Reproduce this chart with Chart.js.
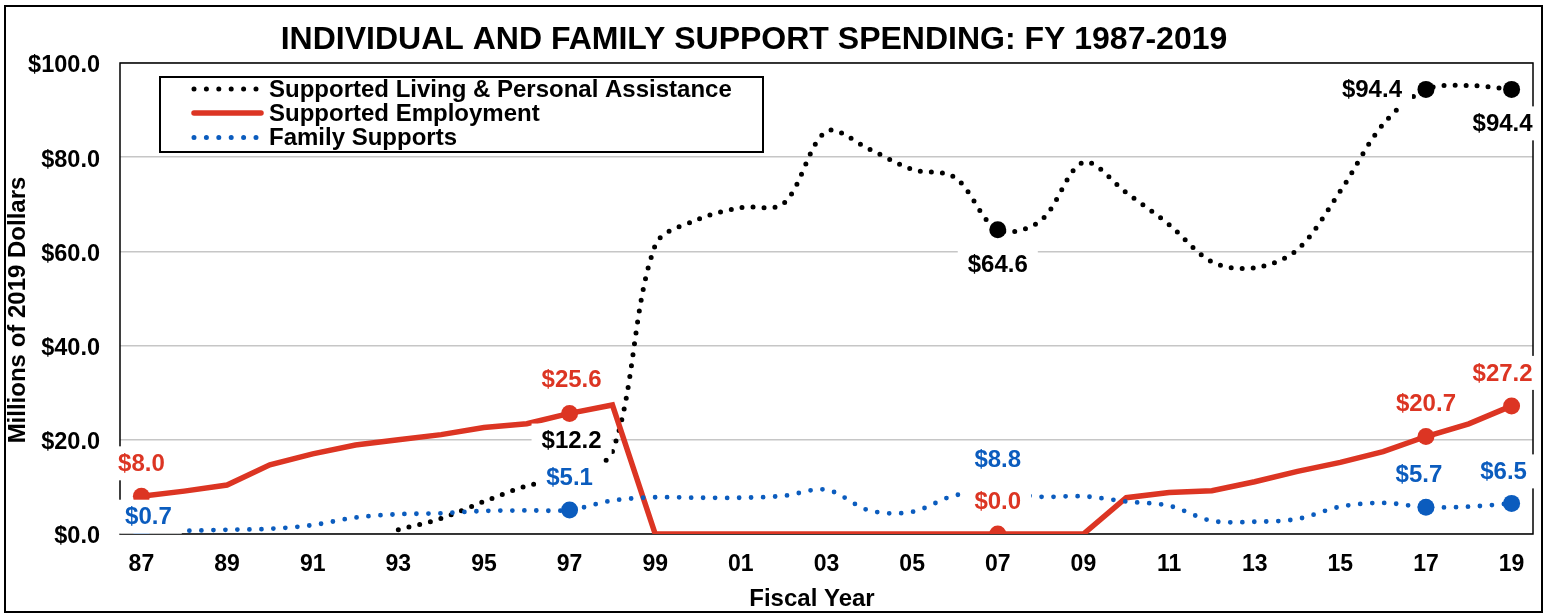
<!DOCTYPE html>
<html>
<head>
<meta charset="utf-8">
<title>Individual and Family Support Spending</title>
<script src="https://cdn.jsdelivr.net/npm/chart.js@4.4.0/dist/chart.umd.min.js"></script>
<style>
  html, body { margin: 0; padding: 0; background: #fff; }
  #chart_container { width: 1551px; height: 615px; }
</style>
</head>
<body>
<div id="chart_container"><canvas id="spending" width="1551" height="615"></canvas></div>
<script>
// fiscal years 1987 - 2019
var years = ['87','88','89','90','91','92','93','94','95','96','97','98','99','00','01','02','03',
             '04','05','06','07','08','09','10','11','12','13','14','15','16','17','18','19'];

// millions of 2019 dollars
var living = [null, null, null, null, null, null, 0.9, 3.3, 6.9, 10.2, 12.2, 17.5, 61.3, 66.8, 69.3, 70.2, 85.5,
              81.7, 77.4, 75.7, 64.6, 66.5, 78.9, 72.5, 65.7, 57.8, 56.5, 60.4, 72.8, 87.0, 94.4, 95.2, 94.4];
var employment = [8.0, 9.1, 10.4, 14.7, 17.0, 18.9, 20.0, 21.1, 22.6, 23.4, 25.6, 27.4, 0.0, 0.0, 0.0, 0.0, 0.0,
                  0.0, 0.0, 0.0, 0.0, 0.0, 0.0, 7.7, 8.8, 9.2, 11.1, 13.3, 15.2, 17.5, 20.7, 23.4, 27.2];
var family = [0.7, 0.7, 0.9, 1.1, 1.9, 3.5, 4.2, 4.4, 4.9, 5.0, 5.1, 7.1, 7.8, 7.7, 7.7, 8.1, 9.4,
              5.0, 4.7, 8.2, 8.8, 7.9, 8.0, 6.9, 6.0, 2.8, 2.6, 3.2, 5.8, 6.6, 5.7, 5.8, 6.5];

var seriesNames = ['Supported Living & Personal Assistance', 'Supported Employment', 'Family Supports'];
var chartTitle = 'INDIVIDUAL AND FAMILY SUPPORT SPENDING: FY 1987-2019';
var yTitle = 'Millions of 2019 Dollars';
var xTitle = 'Fiscal Year';

// which years get a marker + value label
var markedLiving = [20, 30, 32];
var labelledLiving = [10, 20, 30, 32];
var markedOther = [0, 10, 20, 30, 32];

var BLACK = '#000000', RED = '#dc3523', BLUE = '#0b5cbe';
var FONT = '"Liberation Sans", Arial, sans-serif';

// label placement relative to its point: [dx, dy]
var labelOffsets = [
  { 10: [2, -36], 20: [0, 35], 30: [-54, 0], 32: [-9, 34] },
  { 0: [0, -33], 10: [2, -34], 20: [0, -33], 30: [0, -33], 32: [-9, -33] },
  { 0: [7, -14], 10: [0, -33], 20: [0, -33], 30: [-7, -33], 32: [-8, -32] }
];

function markerRadius(list) {
  return function (ctx) { return list.indexOf(ctx.dataIndex) >= 0 ? 8.5 : 0; };
}

var decorations = {
  id: 'decorations',
  beforeDraw: function (chart) {
    var ctx = chart.ctx;
    ctx.save();
    ctx.fillStyle = '#fff';
    ctx.fillRect(0, 0, chart.width, chart.height);
    ctx.restore();
  },
  beforeDatasetsDraw: function (chart) {
    var ctx = chart.ctx, a = chart.chartArea;
    ctx.save();
    ctx.strokeStyle = '#000';
    ctx.lineWidth = 1.5;
    ctx.strokeRect(a.left, a.top, a.right - a.left, a.bottom - a.top);
    ctx.restore();
  },
  afterDatasetsDraw: function (chart) {
    var ctx = chart.ctx;
    var xs = chart.scales.x, ys = chart.scales.y;
    var all = [living, employment, family];
    var colors = [BLACK, RED, BLUE];
    var lists = [labelledLiving, markedOther, markedOther];

    // value labels with white boxes
    ctx.save();
    ctx.font = 'bold 24px ' + FONT;
    ctx.textAlign = 'center';
    ctx.textBaseline = 'middle';
    for (var s = 0; s < 3; s++) {
      for (var k = 0; k < lists[s].length; k++) {
        var i = lists[s][k];
        var v = all[s][i];
        var txt = '$' + v.toFixed(1);
        var off = labelOffsets[s][i];
        var x = xs.getPixelForValue(i) + off[0];
        var y = ys.getPixelForValue(v) + off[1];
        var w = ctx.measureText(txt).width;
        ctx.fillStyle = '#fff';
        ctx.fillRect(x - w / 2 - 10, y - 17, w + 20, 34);
        ctx.fillStyle = colors[s];
        ctx.fillText(txt, x, y + 1);
      }
    }
    ctx.restore();

    // legend box inside the plot
    ctx.save();
    ctx.fillStyle = '#fff';
    ctx.fillRect(160, 77, 603, 75);
    ctx.strokeStyle = '#000';
    ctx.lineWidth = 2;
    ctx.strokeRect(160, 77, 603, 75);
    var rows = [89, 113, 137.5];
    ctx.lineCap = 'round';
    for (var r = 0; r < 3; r++) {
      ctx.beginPath();
      ctx.strokeStyle = colors[r];
      if (r == 1) {
        ctx.setLineDash([]);
        ctx.lineWidth = 5.5;
        ctx.moveTo(194, rows[r]);
        ctx.lineTo(261, rows[r]);
      } else {
        ctx.setLineDash([0, 12.4]);
        ctx.lineWidth = 5;
        ctx.moveTo(194, rows[r]);
        ctx.lineTo(258, rows[r]);
      }
      ctx.stroke();
    }
    ctx.setLineDash([]);
    ctx.fillStyle = '#000';
    ctx.font = 'bold 24px ' + FONT;
    ctx.textAlign = 'left';
    ctx.textBaseline = 'middle';
    for (var r2 = 0; r2 < 3; r2++) {
      ctx.fillText(seriesNames[r2], 269, rows[r2] + 1);
    }
    ctx.restore();
  },
  afterDraw: function (chart) {
    var ctx = chart.ctx;
    ctx.save();
    ctx.fillStyle = '#000';
    ctx.textAlign = 'center';
    ctx.textBaseline = 'middle';
    ctx.font = 'bold 32px ' + FONT;
    ctx.fillText(chartTitle, 754, 40);
    ctx.font = 'bold 24px ' + FONT;
    ctx.fillText(xTitle, 812, 599);
    ctx.translate(17, 310);
    ctx.rotate(-Math.PI / 2);
    ctx.fillText(yTitle, 0, 1);
    ctx.restore();

    // outer frame
    ctx.save();
    ctx.strokeStyle = '#000';
    ctx.lineWidth = 2;
    ctx.strokeRect(5, 6, 1537, 606);
    ctx.restore();
  }
};

Chart.defaults.font.family = FONT;

var chart = new Chart(document.getElementById('spending'), {
  type: 'line',
  data: {
    labels: years,
    datasets: [
      {
        label: seriesNames[0],
        data: living,
        borderColor: BLACK,
        backgroundColor: BLACK,
        borderWidth: 5,
        borderDash: [0, 11],
        borderCapStyle: 'round',
        tension: 0.33,
        pointRadius: markerRadius(markedLiving),
        pointBorderWidth: 0,
        pointBackgroundColor: BLACK,
        order: 2
      },
      {
        label: seriesNames[1],
        data: employment,
        borderColor: RED,
        backgroundColor: RED,
        borderWidth: 5.5,
        tension: 0,
        pointRadius: markerRadius(markedOther),
        pointBorderWidth: 0,
        pointBackgroundColor: RED,
        order: 1
      },
      {
        label: seriesNames[2],
        data: family,
        borderColor: BLUE,
        backgroundColor: BLUE,
        borderWidth: 4.8,
        borderDash: [0, 12],
        borderCapStyle: 'round',
        tension: 0.33,
        pointRadius: markerRadius(markedOther),
        pointBorderWidth: 0,
        pointBackgroundColor: BLUE,
        order: 0
      }
    ]
  },
  options: {
    responsive: false,
    animation: false,
    devicePixelRatio: 1,
    layout: { padding: { left: 0, top: 63, right: 18, bottom: 0 } },
    plugins: {
      legend: { display: false },
      tooltip: { enabled: false },
      title: { display: false }
    },
    scales: {
      x: {
        offset: true,
        grid: { display: false, drawTicks: false },
        border: { display: false },
        ticks: {
          color: '#000',
          font: { size: 23, weight: 'bold' },
          padding: 17,
          autoSkip: false,
          maxRotation: 0,
          minRotation: 0,
          callback: function (value, index) { return index % 2 == 0 ? years[index] : ''; }
        },
        afterFit: function (scale) { scale.height = 81; }
      },
      y: {
        min: 0,
        max: 100,
        grid: { color: '#c6c6c6', lineWidth: 1.5, drawTicks: false },
        border: { display: false },
        ticks: {
          stepSize: 20,
          color: '#000',
          font: { size: 23.5, weight: 'bold' },
          padding: 20,
          labelOffset: 3,
          callback: function (value) { return '$' + value.toFixed(1); }
        },
        afterFit: function (scale) { scale.width = 120; }
      }
    }
  },
  plugins: [decorations]
});
</script>
</body>
</html>
